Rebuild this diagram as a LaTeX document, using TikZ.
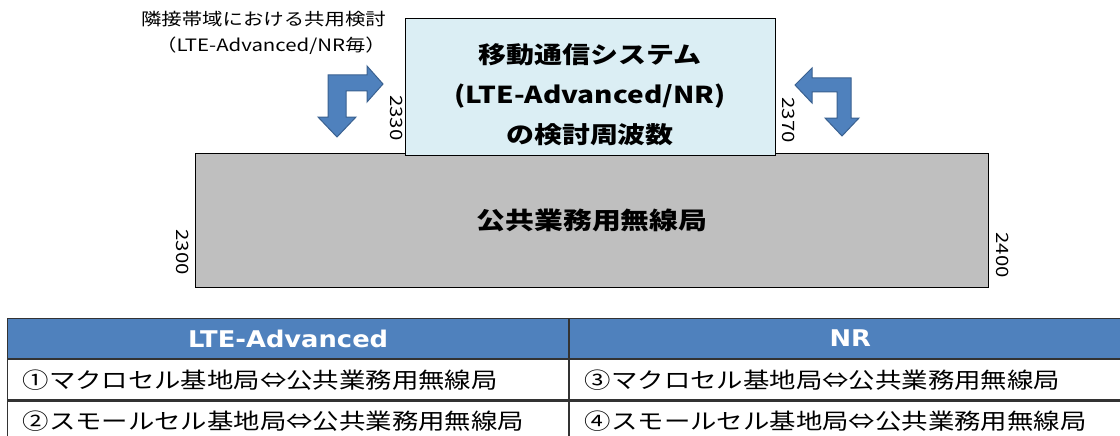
\documentclass[tikz,border=0pt]{standalone}
\usepackage{fontspec}
\setmainfont[FakeStretch=1.2]{Noto Sans CJK JP}
\newfontfamily\headfont[FakeStretch=1.12]{DejaVu Sans}
\usetikzlibrary{positioning}
\definecolor{bandblue}{HTML}{DBEEF4}
\definecolor{bandgray}{HTML}{BFBFBF}
\definecolor{headblue}{HTML}{4F81BD}
\definecolor{arrowedge}{HTML}{3A6190}
\tikzset{
  freq/.style={rotate=-90, font=\fontsize{17}{17}\selectfont},
  bent/.style={fill=headblue, draw=arrowedge, line width=1pt, line join=miter},
  tcell/.style={draw=black!80, line width=1.2pt, minimum height=40, text width=531, inner xsep=15, align=left, anchor=north west, font=\fontsize{22}{22}\selectfont},
  thead/.style={tcell, fill=headblue, text=white, align=center, font=\headfont\bfseries\fontsize{23}{23}\selectfont}
}
\begin{document}
\begin{tikzpicture}[x=1pt, y=-1pt, inner sep=0pt]
\useasboundingbox (0,0) rectangle (1120,436);
\clip (0,0) rectangle (1120,436);
% bands
\node[draw, line width=1pt, fill=bandgray, minimum width=793, minimum height=134, anchor=north west] (pub) at (195,153)
  {\bfseries\fontsize{24}{24}\selectfont 公共業務用無線局};
\node[draw, line width=1pt, fill=bandblue, minimum width=370, minimum height=137, anchor=north west] (band) at (405,18) {};
\node[align=center, font=\bfseries\fontsize{23.3}{40}\selectfont] (bandtxt) at (590,95)
  {移動通信システム\\(LTE-Advanced/NR)\\の検討周波数};
% band edges
\node[freq, anchor=north] (f2330) at ([xshift=-2]band.south west |- 0,118) {2330};
\node[freq, anchor=south] (f2370) at ([xshift=6]band.south east |- 0,120) {2370};
\node[freq, anchor=north] (f2300) at ([xshift=-6]pub.south west |- 0,252) {2300};
\node[freq, anchor=south] (f2400) at ([xshift=7]pub.south east |- 0,255) {2400};
% note
\node[align=right, anchor=east, font=\fontsize{17}{26}\selectfont] (note) at (386,33)
  {隣接帯域における共用検討\\（LTE-Advanced/NR毎）};
% bent arrows
\draw[bent] (328,117)--(318,117)--(337,137)--(356,117)--(346,117)--(346,91)--(367,91)--(367,102)
  --(383,84)--(367,66)--(367,75)--(328,75)--cycle;
\draw[bent] (795,85)--(812,68)--(812,78)--(851,78)--(851,118)--(859,118)--(842,136)--(825,118)
  --(837,118)--(837,92)--(812,92)--(812,103)--cycle;
% table
\node[thead] (hlte) at (7,318) {LTE-Advanced};
\node[thead] (hnr) at (hlte.north east) {NR};
\node[tcell] (lte1) at (hlte.south west) {①マクロセル基地局⇔公共業務用無線局};
\node[tcell] (nr1) at (hnr.south west) {③マクロセル基地局⇔公共業務用無線局};
\node[tcell] (lte2) at (lte1.south west) {②スモールセル基地局⇔公共業務用無線局};
\node[tcell] (nr2) at (nr1.south west) {④スモールセル基地局⇔公共業務用無線局};
\end{tikzpicture}
\end{document}
